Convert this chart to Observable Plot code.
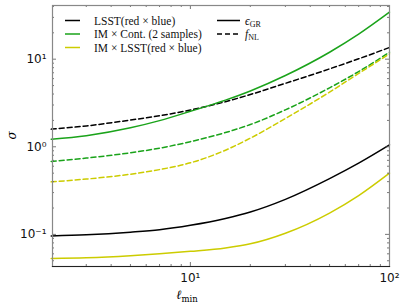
<!DOCTYPE html>
<html><head><meta charset="utf-8">
<script src="https://cdn.jsdelivr.net/npm/d3@7"></script>
<script src="https://cdn.jsdelivr.net/npm/@observablehq/plot@0.6"></script>
<style>body{margin:0;background:#fff}</style>
</head><body><div id="chart"></div>
<script>
const lmin = [2, 3, 5, 7, 10, 15, 20, 30, 50, 70, 100];
const lsstGR   = [0.096, 0.099, 0.106, 0.113, 0.127, 0.152, 0.180, 0.251, 0.433, 0.65, 1.05];
const imContGR = [1.22, 1.34, 1.65, 1.99, 2.54, 3.41, 4.34, 6.51, 12.0, 19.3, 34.4];
const imLsstGR = [0.053, 0.054, 0.057, 0.060, 0.064, 0.070, 0.078, 0.103, 0.175, 0.277, 0.50];
const lsstNL   = [1.59, 1.73, 2.02, 2.26, 2.63, 3.27, 3.95, 5.30, 7.75, 10.1, 13.6];
const imContNL = [0.679, 0.743, 0.854, 0.964, 1.144, 1.453, 1.794, 2.64, 4.71, 7.22, 12.0];
const imLsstNL = [0.398, 0.428, 0.486, 0.549, 0.656, 0.914, 1.254, 2.10, 4.21, 6.87, 11.47];
const seriesNames = ["LSST(red × blue)", "IM × Cont. (2 samples)", "IM × LSST(red × blue)"];
const colors = ["#000000", "#1aa31a", "#cccc00"];
const xTicks = [10, 100];
const xTickLabels = ["10¹", "10²"];
const yTicks = [0.1, 1, 10];
const yTickLabels = ["10⁻¹", "10⁰", "10¹"];

const series = [
  {name: seriesNames[0], kind: "GR", vals: lsstGR},
  {name: seriesNames[1], kind: "GR", vals: imContGR},
  {name: seriesNames[2], kind: "GR", vals: imLsstGR},
  {name: seriesNames[0], kind: "NL", vals: lsstNL},
  {name: seriesNames[1], kind: "NL", vals: imContNL},
  {name: seriesNames[2], kind: "NL", vals: imLsstNL}
];
const rows = series.flatMap(s => s.vals.map((v, i) => ({x: lmin[i], y: v, name: s.name, kind: s.kind})));

const W = 407, H = 306, mL = 52, mR = 18, mT = 5, mB = 40;
const pw = W - mL - mR, ph = H - mT - mB;
const xDomain = [2.03, 100];
const yDomain = [0.043, 41];

const xMinor = [];
for (let d = 1; d <= 10; d *= 10) for (let k = 2; k <= 9; k++) { const v = k * d; if (v >= xDomain[0] && v <= xDomain[1]) xMinor.push(v); }
const yMinor = [];
for (let d = 0.01; d <= 10; d *= 10) for (let k = 2; k <= 9; k++) { const v = +(k * d).toPrecision(3); if (v >= yDomain[0] && v <= yDomain[1]) yMinor.push(v); }

const xFmt = d => xTickLabels[xTicks.indexOf(d)];
const yFmt = d => yTickLabels[yTicks.findIndex(t => Math.abs(t - d) < 1e-9)];

const tickStyle = {stroke: "#555", strokeWidth: 0.8};
const marks = [];
seriesNames.forEach((n, i) => {
  marks.push(Plot.line(rows.filter(r => r.name === n && r.kind === "GR"), {x: "x", y: "y", stroke: colors[i], strokeWidth: 1.5, curve: "monotone-x"}));
  marks.push(Plot.line(rows.filter(r => r.name === n && r.kind === "NL"), {x: "x", y: "y", stroke: colors[i], strokeWidth: 1.5, strokeDasharray: "5,3", curve: "monotone-x"}));
});
marks.push(
  Plot.tickX(xTicks, {x: d => d, insetTop: ph - 4, ...tickStyle}),
  Plot.tickX(xTicks, {x: d => d, insetBottom: ph - 4, ...tickStyle}),
  Plot.tickX(xMinor, {x: d => d, insetTop: ph - 2, ...tickStyle}),
  Plot.tickX(xMinor, {x: d => d, insetBottom: ph - 2, ...tickStyle}),
  Plot.tickY(yTicks, {y: d => d, insetRight: pw - 4, ...tickStyle}),
  Plot.tickY(yTicks, {y: d => d, insetLeft: pw - 4, ...tickStyle}),
  Plot.tickY(yMinor, {y: d => d, insetRight: pw - 2, ...tickStyle}),
  Plot.tickY(yMinor, {y: d => d, insetLeft: pw - 2, ...tickStyle}),
  Plot.frame({stroke: "#888", strokeWidth: 1.2}),
  Plot.frame({anchor: "bottom", stroke: "#222", strokeWidth: 1.2}),
  Plot.text(xTicks, {x: d => d, frameAnchor: "bottom", dy: 15, text: xFmt, fontSize: 12, fontFamily: "DejaVu Sans", fill: "#111"}),
  Plot.text(yTicks, {y: d => d, frameAnchor: "left", dx: -6, textAnchor: "end", text: yFmt, fontSize: 12, fontFamily: "DejaVu Sans", fill: "#111"})
);

const chart = Plot.plot({
  width: W, height: H,
  marginLeft: mL, marginRight: mR, marginTop: mT, marginBottom: mB,
  x: {type: "log", domain: xDomain, axis: null},
  y: {type: "log", domain: yDomain, axis: null},
  style: {background: "#fff", overflow: "visible"},
  marks
});

const svg = d3.select(chart);
const serif = "'DejaVu Serif', 'Liberation Serif', serif";
const xl = svg.append("text").attr("x", 187).attr("y", 299).attr("text-anchor", "middle")
  .attr("font-family", serif).attr("font-size", 12.5);
xl.append("tspan").attr("font-style", "italic").text("ℓ");
xl.append("tspan").attr("font-size", 8.5).attr("dy", 3).text("min");
svg.append("text").attr("transform", `translate(16,${mT + ph * 0.5}) rotate(-90)`).attr("text-anchor", "middle")
  .attr("font-family", serif).attr("font-style", "italic").attr("font-size", 12).text("σ");

const leg = svg.append("g").attr("font-family", "'Liberation Serif', 'DejaVu Serif', serif").attr("font-size", 11.5).attr("text-anchor", "start").attr("fill", "#111");
seriesNames.forEach((n, i) => {
  const y = 20.5 + i * 13.5;
  leg.append("line").attr("x1", 65).attr("x2", 80).attr("y1", y).attr("y2", y).attr("stroke", colors[i]).attr("stroke-width", 1.5);
  leg.append("text").attr("x", 94).attr("y", y + 4).text(n);
});
const gr = leg.append("text").attr("x", 245).attr("y", 24.5);
gr.append("tspan").attr("font-style", "italic").text("ϵ");
gr.append("tspan").attr("font-size", 8).attr("dy", 2).text("GR");
const nl = leg.append("text").attr("x", 245).attr("y", 38);
nl.append("tspan").attr("font-style", "italic").text("f");
nl.append("tspan").attr("font-size", 8).attr("dy", 2).text("NL");
[null, "5,3"].forEach((dash, i) => {
  const y = 20.5 + i * 13.5;
  const l = leg.append("line").attr("x1", 217).attr("x2", 240).attr("y1", y).attr("y2", y).attr("stroke", "#000").attr("stroke-width", 1.5);
  if (dash) l.attr("stroke-dasharray", dash);
});

document.getElementById("chart").append(chart);
</script>
</body></html>
